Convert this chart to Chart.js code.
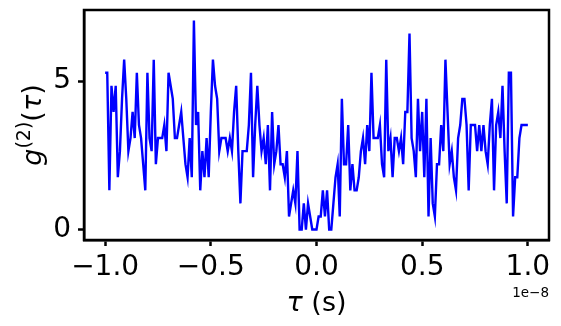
<!DOCTYPE html>
<html>
<head>
<meta charset="utf-8">
<script src="https://cdn.jsdelivr.net/npm/chart.js@4.4.0/dist/chart.umd.min.js"></script>
<style>
	html, body { margin: 0; padding: 0; background: #fff; }
	#wrap { width: 561px; height: 326px; }
</style>
</head>
<body>
<div id="wrap"><canvas id="g2-chart" width="561" height="326"></canvas></div>
<script>
// sampling grid of the delay axis (seconds)
var tauStart = -1e-8;
var tauStep  = 1e-10;

// g2 values, one per delay step
var g2Values = [
	5.28, 5.28, 1.32, 4.84, 3.96, 4.84, 1.76, 2.64, 4.4, 5.72,
	4.4, 2.64, 3.08, 3.96, 3.08, 5.28, 3.52, 3.08, 2.2, 1.32,
	5.28, 3.08, 2.64, 5.72, 2.2, 3.08, 3.08, 3.08, 3.52, 2.64,
	5.28, 4.84, 4.4, 3.08, 3.08, 3.52, 3.96, 3.08, 2.2, 1.76,
	3.08, 1.76, 7.04, 3.52, 3.96, 1.32, 2.64, 1.76, 3.08, 1.76,
	3.96, 5.72, 4.84, 4.4, 2.64, 3.08, 3.08, 3.08, 2.64, 3.08,
	2.64, 3.96, 4.84, 2.64, 0.88, 2.64, 2.64, 2.64, 3.52, 5.28,
	1.76, 3.52, 4.84, 3.52, 2.64, 3.08, 2.2, 3.52, 1.32, 3.96,
	2.2, 2.64, 3.52, 2.2, 2.2, 1.76, 2.64, 0.44, 0.88, 1.32,
	0.88, 2.64, 0, 0, 0.88, 0, 0.88, 0.44, 0, 0,
	0, 0.44, 0.44, 1.32, 0.44, 1.32, 0, 0, 0.88, 1.76,
	2.2, 0.44, 4.4, 2.2, 2.2, 3.52, 1.32, 2.2, 1.32, 1.32,
	1.76, 2.64, 3.08, 2.2, 3.52, 2.64, 5.28, 3.08, 3.08, 3.08,
	3.52, 2.2, 1.76, 5.72, 2.64, 3.08, 1.76, 3.08, 3.08, 2.64,
	3.08, 2.2, 3.96, 3.96, 6.6, 3.08, 2.64, 1.76, 4.4, 2.64,
	3.96, 1.76, 4.4, 0.44, 3.08, 0.88, 0.44, 2.2, 2.2, 3.52,
	2.64, 5.72, 3.96, 2.2, 2.64, 1.76, 1.32, 3.08, 3.52, 4.4,
	4.4, 3.52, 1.32, 3.52, 3.52, 3.52, 2.64, 3.52, 2.64, 3.52,
	2.64, 2.2, 3.52, 4.4, 1.32, 3.52, 3.96, 3.08, 4.84, 2.64,
	0.88, 5.28, 5.28, 0.44, 1.76, 1.76, 3.08, 3.52, 3.52, 3.52,
	3.52
];

var xTickValues = [ -1e-8, -0.5e-8, 0, 0.5e-8, 1e-8 ];
var xTickLabels = [ '\u22121.0', '\u22120.5', '0.0', '0.5', '1.0' ];
var yTickValues = [ 0, 5 ];
var yTickLabels = [ '0', '5' ];

( function () {
	'use strict';

	var FONT = '"DejaVu Sans", "Liberation Sans", sans-serif';

	var tau = g2Values.map( function ( v, i ) { return tauStart + i * tauStep; } );
	var points = tau.map( function ( t, i ) { return { x: t, y: g2Values[ i ] }; } );

	// frame, axis titles and the 1e-8 offset text
	var decorations = {
		id: 'decorations',
		afterDraw: function ( chart ) {
			var ctx = chart.ctx;
			var a = chart.chartArea;
			ctx.save();

			ctx.strokeStyle = '#000';
			ctx.lineWidth = 2.5;
			ctx.strokeRect( a.left, a.top, a.right - a.left, a.bottom - a.top );

			ctx.fillStyle = '#000';
			ctx.textBaseline = 'alphabetic';

			// x label: tau (s)
			var big = 27;
			var itl = 'italic ' + big + 'px ' + FONT;
			var reg = big + 'px ' + FONT;
			ctx.font = itl;
			var w1 = ctx.measureText( '\u03c4' ).width;
			ctx.font = reg;
			var w2 = ctx.measureText( ' (s)' ).width;
			var cx = ( a.left + a.right ) / 2 - ( w1 + w2 ) / 2;
			ctx.textAlign = 'left';
			ctx.font = itl;
			ctx.fillText( '\u03c4', cx, 311 );
			ctx.font = reg;
			ctx.fillText( ' (s)', cx + w1, 311 );

			// offset text
			ctx.font = '13.5px ' + FONT;
			ctx.textAlign = 'right';
			ctx.fillText( '1e\u22128', a.right, 297 );

			// y label: g^(2)(tau), rotated
			var small = 19;
			var parts = [
				{ t: 'g', f: itl, dy: 0 },
				{ t: '(2)', f: small + 'px ' + FONT, dy: -11 },
				{ t: '(', f: reg, dy: 0 },
				{ t: '\u03c4', f: itl, dy: 0 },
				{ t: ')', f: reg, dy: 0 }
			];
			var total = 0;
			parts.forEach( function ( p ) {
				ctx.font = p.f;
				p.w = ctx.measureText( p.t ).width;
				total += p.w;
			} );
			ctx.translate( 41, ( a.top + a.bottom ) / 2 );
			ctx.rotate( -Math.PI / 2 );
			ctx.textAlign = 'left';
			var px = -total / 2;
			parts.forEach( function ( p ) {
				ctx.font = p.f;
				ctx.fillText( p.t, px, p.dy );
				px += p.w;
			} );

			ctx.restore();
		}
	};

	function noPad( s ) {
		s.paddingTop = 0;
		s.paddingBottom = 0;
		s.paddingLeft = 0;
		s.paddingRight = 0;
	}

	function init() {
		var canvas = document.getElementById( 'g2-chart' );
		if ( typeof Chart === 'undefined' || !canvas ) {
			return;
		}

		// eslint-disable-next-line no-new
		new Chart( canvas.getContext( '2d' ), {
			type: 'line',
			data: {
				datasets: [
					{
						data: points,
						borderColor: '#0000ff',
						backgroundColor: '#0000ff',
						borderWidth: 2.4,
						pointRadius: 0,
						tension: 0,
						fill: false
					}
				]
			},
			options: {
				responsive: false,
				animation: false,
				devicePixelRatio: 1,
				layout: { padding: { top: 10, right: 12, left: 0, bottom: 0 } },
				plugins: {
					legend: { display: false },
					tooltip: { enabled: false }
				},
				scales: {
					x: {
						type: 'linear',
						min: -1.1e-8,
						max: 1.1e-8,
						afterBuildTicks: function ( s ) {
							s.ticks = xTickValues.map( function ( v ) { return { value: v }; } );
						},
						afterFit: function ( s ) { s.height = 86; noPad( s ); },
						ticks: {
							autoSkip: false,
							maxRotation: 0,
							padding: 5,
							color: '#000',
							font: { family: FONT, size: 28 },
							callback: function ( v, i ) { return xTickLabels[ i ]; }
						},
						grid: {
							drawOnChartArea: false,
							drawTicks: true,
							tickLength: 6,
							tickWidth: 2.5,
							tickColor: '#000'
						},
						border: { display: true, color: '#000', width: 2.5 }
					},
					y: {
						type: 'linear',
						min: -0.352,
						max: 7.392,
						afterBuildTicks: function ( s ) {
							s.ticks = yTickValues.map( function ( v ) { return { value: v }; } );
						},
						afterFit: function ( s ) { s.width = 84; noPad( s ); },
						ticks: {
							autoSkip: false,
							padding: 7,
							color: '#000',
							font: { family: FONT, size: 28 },
							callback: function ( v, i ) { return yTickLabels[ i ]; }
						},
						grid: {
							drawOnChartArea: false,
							drawTicks: true,
							tickLength: 6,
							tickWidth: 2.5,
							tickColor: '#000'
						},
						border: { display: true, color: '#000', width: 2.5 }
					}
				}
			},
			plugins: [ decorations ]
		} );
	}

	if ( document.readyState === 'loading' ) {
		document.addEventListener( 'DOMContentLoaded', init );
	} else {
		init();
	}
} )();
</script>
</body>
</html>
